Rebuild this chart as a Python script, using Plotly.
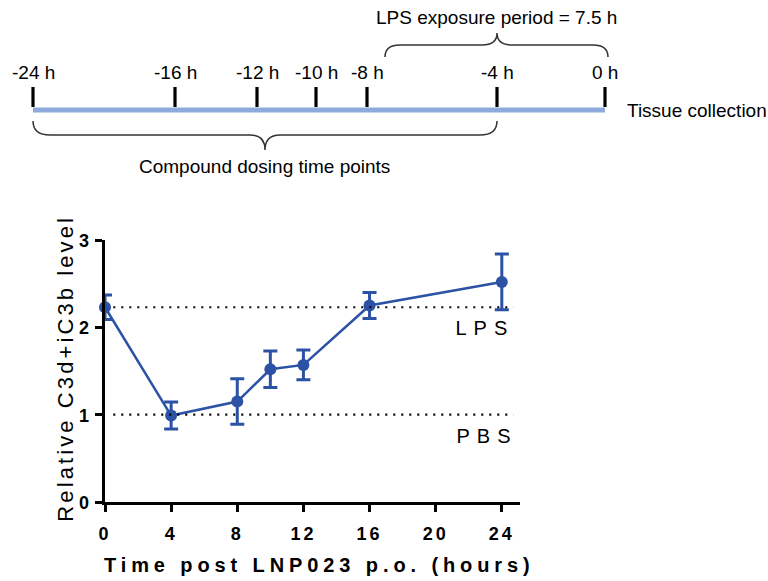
import plotly.graph_objects as go

# ---------------- data ----------------
time_h = [0, 4, 8, 10, 12, 16, 24]
c3_level = [2.23, 0.99, 1.15, 1.52, 1.57, 2.25, 2.52]
c3_err = [0.14, 0.155, 0.26, 0.21, 0.17, 0.15, 0.32]
lps_level = 2.23
pbs_level = 1.0

x_ticks = [0, 4, 8, 12, 16, 20, 24]
y_ticks = [0, 1, 2, 3]

timeline_hours = [-24, -16, -12, -10, -8, -4, 0]
timeline_labels = [f"{h} h" for h in timeline_hours]

x_title = "Time post LNP023 p.o. (hours)"
y_title = "Relative C3d+iC3b level"

# ---------------- layout config (pixel canvas for the schematic) ----------------
W, H = 768, 581
timeline_px = [33, 175, 257, 316, 367, 497, 605]   # schematic is not to scale
bar_y = 110
tick_top = 87
label_y = 73


def px(x):
    return x / W


def py(y):
    return 1 - y / H


blue = "#2B52A5"
font_reg = "Liberation Sans, Arial, sans-serif"

fig = go.Figure()

# data trace
fig.add_trace(go.Scatter(
    x=time_h, y=c3_level,
    mode="lines+markers",
    line=dict(color=blue, width=2.5),
    marker=dict(color=blue, size=12),
    error_y=dict(type="data", array=c3_err, visible=True, color=blue, thickness=3, width=7),
    cliponaxis=False, showlegend=False,
))

# reference lines
for lvl in (lps_level, pbs_level):
    fig.add_trace(go.Scatter(
        x=[0.5, 24.7], y=[lvl, lvl], mode="lines",
        line=dict(color="black", width=2.2, dash="2px,6px"),
        showlegend=False, hoverinfo="skip",
    ))

shapes = []
# timeline bar
shapes.append(dict(type="line", xref="paper", yref="paper",
                   x0=px(timeline_px[0]), x1=px(timeline_px[-1]),
                   y0=py(bar_y), y1=py(bar_y), line=dict(color="#8EA9DB", width=5), layer="below"))
# timeline ticks
for tx in timeline_px:
    shapes.append(dict(type="line", xref="paper", yref="paper", x0=px(tx), x1=px(tx),
                       y0=py(tick_top), y1=py(bar_y - 3), line=dict(color="black", width=3.2)))


def brace_path(points):
    parts = []
    for cmd, pts in points:
        parts.append(cmd + " " + " ".join(f"{px(a):.5f},{py(b):.5f}" for a, b in pts))
    return " ".join(parts)


# lower brace (dosing time points)
lx0, lx1 = timeline_px[0], timeline_px[5]
lm = (lx0 + lx1) / 2
shapes.append(dict(type="path", xref="paper", yref="paper",
                   path=brace_path([
                       ("M", [(lx0, 121)]),
                       ("Q", [(lx0, 135), (lx0 + 17, 135)]),
                       ("L", [(lm - 15, 135)]),
                       ("Q", [(lm, 135), (lm, 150)]),
                       ("Q", [(lm, 135), (lm + 15, 135)]),
                       ("L", [(lx1 - 17, 135)]),
                       ("Q", [(lx1, 135), (lx1, 121)]),
                   ]),
                   line=dict(color="#333333", width=1.5)))
# upper brace (LPS exposure)
ux0, ux1 = 385, 608
um = timeline_px[5]
shapes.append(dict(type="path", xref="paper", yref="paper",
                   path=brace_path([
                       ("M", [(ux0, 57)]),
                       ("Q", [(ux0, 45), (ux0 + 15, 45)]),
                       ("L", [(um - 15, 45)]),
                       ("Q", [(um, 45), (um, 33)]),
                       ("Q", [(um, 45), (um + 15, 45)]),
                       ("L", [(ux1 - 15, 45)]),
                       ("Q", [(ux1, 45), (ux1, 57)]),
                   ]),
                   line=dict(color="#333333", width=1.5)))

annotations = []
for tx, lab in zip(timeline_px, timeline_labels):
    annotations.append(dict(x=px(tx), y=py(label_y), xref="paper", yref="paper", text=lab,
                            showarrow=False, font=dict(family=font_reg, size=19, color="black"),
                            xanchor="center", yanchor="middle"))
annotations.append(dict(x=px(625), y=py(bar_y), xref="paper", yref="paper", text="Tissue collection",
                        showarrow=False, font=dict(family=font_reg, size=19, color="black"),
                        xanchor="left", yanchor="middle"))
annotations.append(dict(x=px(264), y=py(167), xref="paper", yref="paper",
                        text="Compound dosing time points",
                        showarrow=False, font=dict(family=font_reg, size=19, color="black"),
                        xanchor="center", yanchor="middle"))
annotations.append(dict(x=px(496), y=py(17), xref="paper", yref="paper",
                        text="LPS exposure period = 7.5 h",
                        showarrow=False, font=dict(family=font_reg, size=19, color="black"),
                        xanchor="center", yanchor="middle"))
# LPS / PBS labels
annotations.append(dict(x=23.0, y=lps_level, xref="x", yref="y", text="LPS", showarrow=False,
                        font=dict(family=font_reg, size=20, color="black"),
                        xanchor="center", yanchor="middle", yshift=-21))
annotations.append(dict(x=23.1, y=pbs_level, xref="x", yref="y", text="PBS", showarrow=False,
                        font=dict(family=font_reg, size=20, color="black"),
                        xanchor="center", yanchor="middle", yshift=-21))
# y tick labels (placed on the y scale)
for v in y_ticks:
    annotations.append(dict(x=px(91), y=v, xref="paper", yref="y", text=str(v), showarrow=False,
                            font=dict(family=font_reg, size=18, color="black", weight="bold"),
                            xanchor="right", yanchor="middle", yshift=-1))
# axis titles
annotations.append(dict(x=px(319), y=py(565), xref="paper", yref="paper", text=x_title,
                        showarrow=False,
                        font=dict(family=font_reg, size=20, color="black", weight="bold"),
                        xanchor="center", yanchor="middle"))
annotations.append(dict(x=px(65), y=py(369), xref="paper", yref="paper", text=y_title,
                        showarrow=False, textangle=-90,
                        font=dict(family=font_reg, size=22, color="black"),
                        xanchor="center", yanchor="middle"))

fig.update_layout(
    width=W, height=H, autosize=False,
    margin=dict(l=0, r=0, t=0, b=0, pad=0),
    paper_bgcolor="white", plot_bgcolor="rgba(0,0,0,0)",
    shapes=shapes, annotations=annotations,
    xaxis=dict(
        domain=[105 / W, 520 / W], range=[0, 25.1],
        tickvals=x_ticks,
        showline=True, linecolor="black", linewidth=3,
        ticks="outside", ticklen=7, tickwidth=3, tickcolor="black",
        showgrid=False, zeroline=False, ticklabelstandoff=6, automargin=False,
        tickfont=dict(family=font_reg, size=18, color="black", weight="bold"),
    ),
    yaxis=dict(
        domain=[1 - 502 / H, 1 - 240 / H], range=[0, 3],
        tickvals=y_ticks, showticklabels=False,
        showline=True, linecolor="black", linewidth=3,
        ticks="outside", ticklen=7, tickwidth=3, tickcolor="black",
        showgrid=False, zeroline=False, automargin=False,
    ),
)

# letter spacing to mimic the spaced-out typography of the original
post = """
var gd = document.getElementById('{plot_id}');
var spacing = {
  'Time post LNP023 p.o. (hours)': '4.9px',
  'Relative C3d+iC3b level': '3.1px',
  'LPS': '7px', 'PBS': '7px'
};
gd.querySelectorAll('text').forEach(function(t){
  var s = t.textContent;
  if (spacing[s]) { t.style.letterSpacing = spacing[s]; }
});
gd.querySelectorAll('.xtick text').forEach(function(t){
  t.style.letterSpacing = '3px';
});
"""

fig.write_html("out.html", post_script=post)
